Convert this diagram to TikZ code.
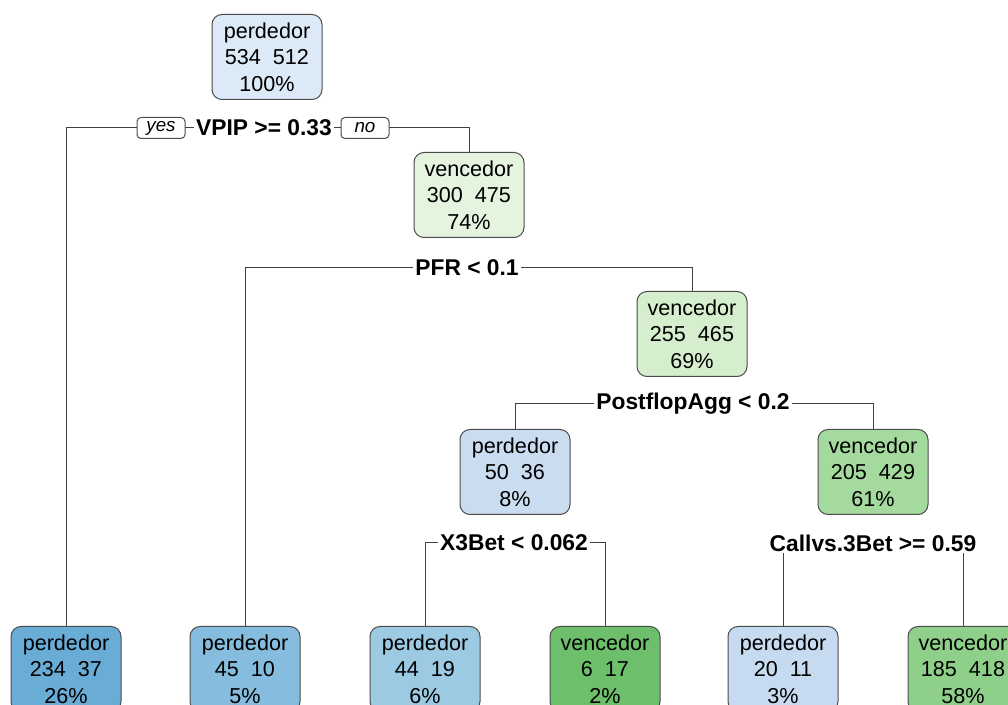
\documentclass[tikz,border=0pt]{standalone}
\usepackage{fontspec}
\setmainfont{Liberation Sans}
\usetikzlibrary{backgrounds}

\definecolor{rootblue}{HTML}{DCE9F6}
\definecolor{paleblue}{HTML}{C9DCF0}
\definecolor{lightblue}{HTML}{C6DBEF}
\definecolor{midblue}{HTML}{9DCAE3}
\definecolor{skyblue}{HTML}{86BCDD}
\definecolor{deepblue}{HTML}{69ADD6}
\definecolor{palegreen}{HTML}{E4F4DF}
\definecolor{softgreen}{HTML}{D5EECE}
\definecolor{leafgreen}{HTML}{A5DA9E}
\definecolor{grassgreen}{HTML}{8ED08A}
\definecolor{darkgreen}{HTML}{6DBF6C}

\tikzset{
  treenode/.style={draw=black!70, line width=0.5pt, rounded corners=5pt, align=center,
    minimum width=55pt, minimum height=42.5pt, inner sep=0pt,
    font=\fontsize{10.8}{13.3}\selectfont},
  splitlabel/.style={fill=white, inner sep=1pt, font=\fontsize{11.4}{13}\selectfont\bfseries},
  yesno/.style={draw=black!70, line width=0.5pt, fill=white, rounded corners=2pt,
    minimum width=24pt, minimum height=10.5pt, inner sep=0pt,
    font=\fontsize{9.4}{11}\selectfont\itshape},
  branch/.style={draw=black!75, line width=0.5pt},
}

\begin{document}
\begin{tikzpicture}[x=0.5pt,y=-0.5pt]
\useasboundingbox (0,0) rectangle (1008,705);
\clip (0,0) rectangle (1008,705);

% inner nodes
\node[treenode,fill=rootblue] (root) at (267,57) {perdedor\\534\ \ 512\\100\%};
\node[treenode,fill=palegreen] (n2) at (469,195) {vencedor\\300\ \ 475\\74\%};
\node[treenode,fill=softgreen] (n3) at (692,334) {vencedor\\255\ \ 465\\69\%};
\node[treenode,fill=paleblue] (n4) at (515,472) {perdedor\\50\ \ 36\\8\%};
\node[treenode,fill=leafgreen] (n5) at (873,472) {vencedor\\205\ \ 429\\61\%};

% leaves
\node[treenode,fill=deepblue] (l1) at (66,669) {perdedor\\234\ \ 37\\26\%};
\node[treenode,fill=skyblue] (l2) at (245,669) {perdedor\\45\ \ 10\\5\%};
\node[treenode,fill=midblue] (l3) at (425,669) {perdedor\\44\ \ 19\\6\%};
\node[treenode,fill=darkgreen] (l4) at (605,669) {vencedor\\6\ \ 17\\2\%};
\node[treenode,fill=lightblue] (l5) at (783,669) {perdedor\\20\ \ 11\\3\%};
\node[treenode,fill=grassgreen] (l6) at (963,669) {vencedor\\185\ \ 418\\58\%};

% split labels
\node[splitlabel] (vpip) at (264,128) {VPIP >= 0.33};
\node[yesno] (yes) at (161,128) {yes};
\node[yesno] (no) at (365,128) {no};
\node[splitlabel] (pfr) at (467,268) {PFR < 0.1};
\node[splitlabel] (pagg) at (693,404) {PostflopAgg < 0.2};
\node[splitlabel] (x3) at (514,543) {X3Bet < 0.062};
\node[splitlabel] (cvs) at (873,543) {Callvs.3Bet >= 0.59};

\begin{scope}[on background layer]
\draw[branch] (l1.north) |- (vpip.center);
\draw[branch] (n2.north) |- (vpip.center);
\draw[branch] (l2.north) |- (pfr.center);
\draw[branch] (n3.north) |- (pfr.center);
\draw[branch] (n4.north) |- (pagg.center);
\draw[branch] (n5.north) |- (pagg.center);
\draw[branch] (l3.north) |- (x3.center);
\draw[branch] (l4.north) |- (x3.center);
\draw[branch] (l5.north) |- (cvs.center);
\draw[branch] (l6.north) |- (cvs.center);
\end{scope}

\end{tikzpicture}
\end{document}
